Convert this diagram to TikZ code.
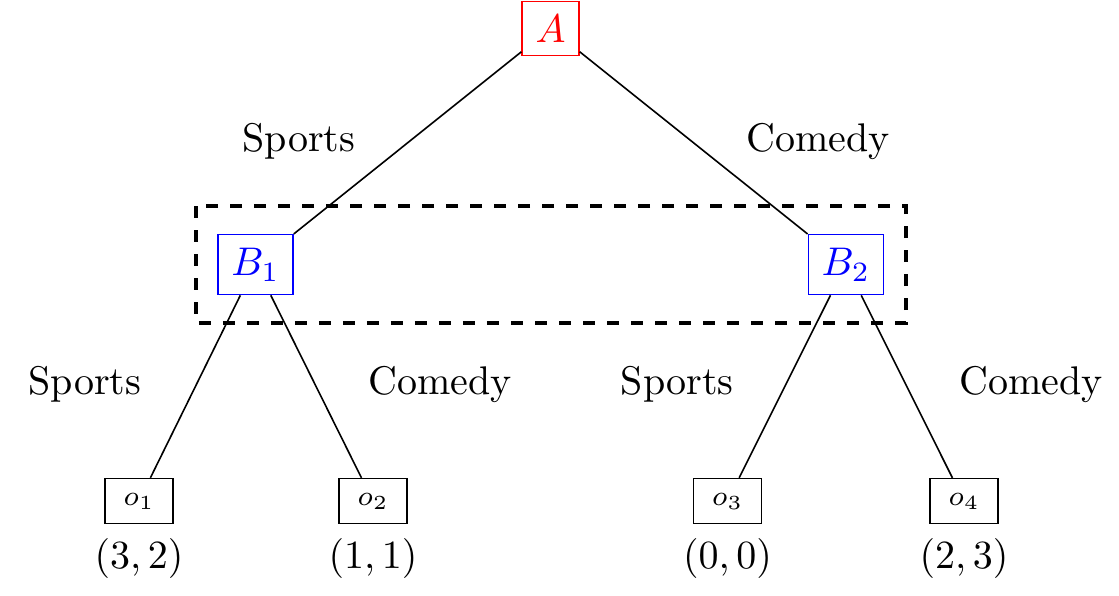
\documentclass[tikz,border=0pt]{standalone}
\usepackage{amsmath}
\usepackage{tikz}

\tikzset{
	player/.style={shape=rectangle,draw=#1,text=#1},
	leaf/.style={shape=rectangle,draw=black,font=\scriptsize,inner xsep=4.6pt,inner ysep=3.6pt},
	payoff/.style={anchor=north}
}

\begin{document}
\begin{tikzpicture}
	
	\useasboundingbox (0,0) rectangle (9.832,-5.228);
	
	\node[player=red] (A) at (4.837, -0.250)     {$A$};
	\node[player=blue] (B1) at (2.245, -2.324)   {$B_1$};
	\node[player=blue] (B2) at (7.432, -2.324)   {$B_2$};
	
	\node[leaf] (o1) at (1.221, -4.402)     {$o_1$};
	\node[leaf] (o2) at (3.277, -4.402)     {$o_2$};
	\node[leaf] (o3) at (6.392, -4.402)     {$o_3$};
	\node[leaf] (o4) at (8.470, -4.402)     {$o_4$};
	
	\node[payoff] (p1) at (o1.south) {$(3,2)$};
	\node[payoff] (p2) at (o2.south) {$(1,1)$};
	\node[payoff] (p3) at (o3.south) {$(0,0)$};
	\node[payoff] (p4) at (o4.south) {$(2,3)$};
	
	% information set of B
	\draw[dashed, thick] (1.722, -1.810) rectangle (7.961, -2.838);
	
	\path[-] (A) edge (B1);
	\path[-] (A) edge (B2);
	\path[-] (B1) edge (o1);
	\path[-] (B1) edge (o2);
	\path[-] (B2) edge (o3);
	\path[-] (B2) edge (o4);
	
	\node (sA) at (2.627, -1.239) {Sports};
	\node (cA) at (7.187, -1.239) {Comedy};
	\node (s1) at (0.747, -3.374) {Sports};
	\node (c1) at (3.866, -3.374) {Comedy};
	\node (s2) at (5.949, -3.374) {Sports};
	\node (c2) at (9.059, -3.374) {Comedy};
	
	\end{tikzpicture}
\end{document}
